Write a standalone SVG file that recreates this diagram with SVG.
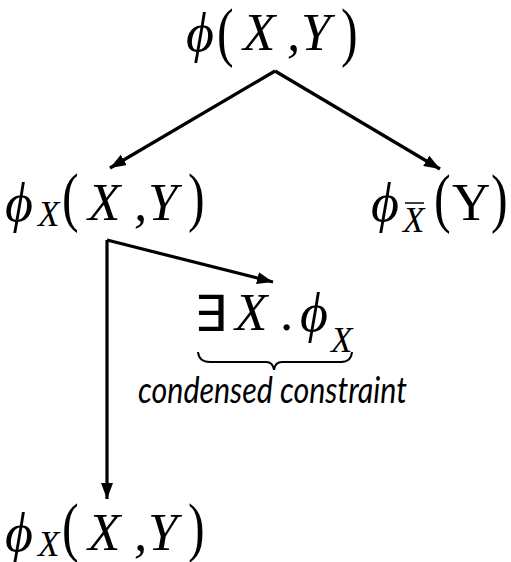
<svg xmlns="http://www.w3.org/2000/svg" width="511" height="562" viewBox="0 0 511 562">
<style>
.m{font-family:"Liberation Serif","DejaVu Serif",serif;font-style:italic;font-size:53px;fill:#000}
.f{font-family:"Liberation Serif","DejaVu Serif",serif;font-style:italic;font-size:54px;fill:#000}
.s{font-family:"Liberation Serif","DejaVu Serif",serif;font-style:italic;font-size:35px;fill:#000}
.p{font-family:"Liberation Serif","DejaVu Serif",serif;font-size:50px;fill:#000}
.u{font-family:"Liberation Serif","DejaVu Serif",serif;font-size:53px;fill:#000}
.e{font-family:"DejaVu Sans",sans-serif;font-size:50px;fill:#000}
.lbl{font-family:"Lato","Open Sans",sans-serif;font-style:italic;font-size:37px;fill:#000}
.c{stroke:#000;stroke-width:3.2;fill:none}
</style>
<defs>
<marker id="ah" markerUnits="userSpaceOnUse" markerWidth="18" markerHeight="14" refX="16" refY="6" orient="auto">
<path d="M0,0 L16,6 L0,12 z" fill="#000"/>
</marker>
</defs>
<g id="connectors">
<path class="c" d="M275,71 L110,168" marker-end="url(#ah)"/>
<path class="c" d="M275,71 L440,169" marker-end="url(#ah)"/>
<path class="c" d="M107,240 L273,282" marker-end="url(#ah)"/>
<path class="c" d="M107,240 L107,499" marker-end="url(#ah)"/>
</g>
<g id="root">
<text class="f" x="186" y="51">ϕ</text>
<text class="p" transform="translate(217,54) scale(1,1.3)">(</text>
<text class="m" x="243" y="50">X</text>
<text class="m" x="287" y="50">,</text>
<text class="m" x="301" y="50">Y</text>
<text class="p" transform="translate(341,54) scale(1,1.3)">)</text>
</g>
<g id="left">
<text class="f" x="5" y="221">ϕ</text>
<text class="s" x="38" y="226">X</text>
<text class="p" transform="translate(62,219) scale(1,1.3)">(</text>
<text class="m" x="88" y="220">X</text>
<text class="m" x="134" y="220">,</text>
<text class="m" x="148" y="220">Y</text>
<text class="p" transform="translate(188,219) scale(1,1.3)">)</text>
</g>
<g id="right">
<text class="f" x="371" y="221">ϕ</text>
<text class="s" x="403" y="232">X</text>
<line x1="405" y1="203" x2="424" y2="203" stroke="#000" stroke-width="1.5"/>
<text class="p" transform="translate(434,220) scale(1,1.3)">(</text>
<text class="u" x="452" y="220">Y</text>
<text class="p" transform="translate(491,220) scale(1,1.3)">)</text>
</g>
<g id="exists">
<text class="e" transform="translate(194,331) scale(1.05,1)">∃</text>
<text class="m" x="235" y="330">X</text>
<text class="u" x="280" y="330">.</text>
<text class="f" x="300" y="331">ϕ</text>
<text class="s" x="331" y="352">X</text>
<path d="M198,352 Q199,362 210,362 L266,362 Q273,362 274,370 Q275,362 282,362 L341,362 Q351,362 352,352" stroke="#000" stroke-width="2" fill="none"/>
<text class="lbl" x="138" y="403" textLength="269" lengthAdjust="spacingAndGlyphs">condensed constraint</text>
</g>
<g id="bottom">
<text class="f" x="5" y="551">ϕ</text>
<text class="s" x="38" y="556">X</text>
<text class="p" transform="translate(62,549) scale(1,1.3)">(</text>
<text class="m" x="88" y="550">X</text>
<text class="m" x="134" y="550">,</text>
<text class="m" x="148" y="550">Y</text>
<text class="p" transform="translate(188,549) scale(1,1.3)">)</text>
</g>
</svg>
